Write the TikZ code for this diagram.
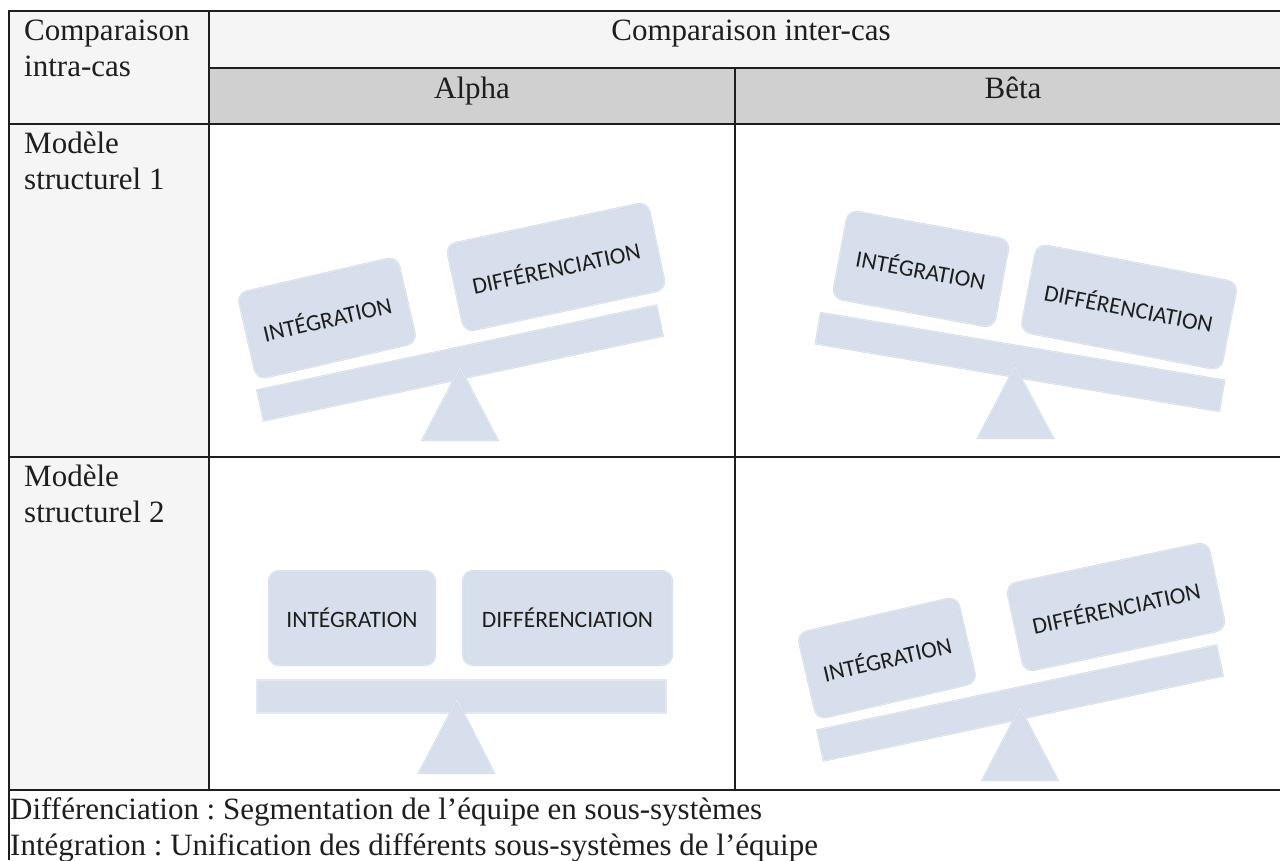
\documentclass[tikz,border=0pt]{standalone}
\usepackage{fontspec}
\setmainfont{Liberation Serif}
\newfontfamily\boxfont{Carlito}
\usepackage{tikz}
\definecolor{rule}{RGB}{30,30,30}
\definecolor{headlight}{RGB}{245,245,245}
\definecolor{headdark}{RGB}{208,208,208}
\definecolor{ssfill}{RGB}{214,223,235}
\definecolor{ssrim}{RGB}{204,215,229}
\definecolor{ssglow}{RGB}{225,232,241}
\frenchspacing

\begin{document}
\begin{tikzpicture}[x=1pt, y=-1pt,
		tabline/.style={draw=rule, line width=2pt},
		cell/.style={inner sep=0pt, text=rule, font=\fontsize{31}{36}\selectfont},
		pivot/.style={fill=ssfill, draw=ssrim, line width=0.4pt, double=ssglow, double distance=1.2pt},
		plank/.style={pivot, shape=rectangle, inner sep=0pt},
		weight/.style={plank, rounded corners=10pt, text=rule, font=\boxfont\fontsize{23.5}{28}\selectfont}]
		\useasboundingbox (0,0) rectangle (1280,860);
		% cell backgrounds
		\fill[headlight] (9,11) rectangle (209,124);
		\fill[headlight] (209,11) rectangle (1293,68);
		\fill[headdark] (209,68) rectangle (1293,124);
		\fill[headlight] (9,124) rectangle (209,790);
		% rules
		\draw[tabline] (8,11) -- (1293,11);
		\draw[tabline] (209,68) -- (1293,68);
		\draw[tabline] (9,124) -- (1293,124);
		\draw[tabline] (9,457) -- (1293,457);
		\draw[tabline] (9,790) -- (1293,790);
		\draw[tabline] (9,10) -- (9,860);
		\draw[tabline] (209,11) -- (209,790);
		\draw[tabline] (735,68) -- (735,790);
		% headers
		\node[cell, anchor=base west] (intraTop) at (24,40) {Comparaison};
		\node[cell, anchor=base west] (intraBot) at (24,76) {intra-cas};
		\node[cell, anchor=base] (inter) at (751,40) {Comparaison inter-cas};
		\node[cell, anchor=base] (alpha) at (472,98) {Alpha};
		\node[cell, anchor=base] (beta) at (1013,98) {Bêta};
		\node[cell, anchor=base west] (modelOneTop) at (24,153) {Modèle};
		\node[cell, anchor=base west] (modelOneBot) at (24,189) {structurel 1};
		\node[cell, anchor=base west] (modelTwoTop) at (24,486) {Modèle};
		\node[cell, anchor=base west] (modelTwoBot) at (24,522) {structurel 2};
		% legend
		\node[cell, anchor=base west] (legendDiff) at (10,819) {Différenciation : Segmentation de l’équipe en sous-systèmes};
		\node[cell, anchor=base west] (legendInt) at (10,855) {Intégration : Unification des différents sous-systèmes de l’équipe};
		% Alpha, modele 1
		\node[plank, minimum width=408pt, minimum height=31pt, rotate=12] (alphaOneBeam) at (460,363) {};
		\filldraw[pivot] (422.5,440) -- (460,368) -- (497.5,440) -- cycle;
		\node[weight, minimum width=164pt, minimum height=88pt, rotate=13] (alphaOneInt) at (327,318) {INTÉGRATION};
		\node[weight, minimum width=206pt, minimum height=89pt, rotate=12] (alphaOneDiff) at (556,267) {DIFFÉRENCIATION};
		% Beta, modele 1
		\node[plank, minimum width=409pt, minimum height=31pt, rotate=-9.5] (betaOneBeam) at (1020,362) {};
		\filldraw[pivot] (978,438) -- (1015,367) -- (1053,438) -- cycle;
		\node[weight, minimum width=164pt, minimum height=89pt, rotate=-10.5] (betaOneInt) at (921,269) {INTÉGRATION};
		\node[weight, minimum width=204pt, minimum height=89pt, rotate=-11] (betaOneDiff) at (1129,307) {DIFFÉRENCIATION};
		% Alpha, modele 2
		\node[plank, minimum width=409pt, minimum height=33pt] (alphaTwoBeam) at (461.5,696.5) {};
		\filldraw[pivot] (419,773) -- (457,700) -- (494,773) -- cycle;
		\node[weight, minimum width=166pt, minimum height=94pt] (alphaTwoInt) at (352,618) {INTÉGRATION};
		\node[weight, minimum width=209pt, minimum height=94pt] (alphaTwoDiff) at (567.5,618) {DIFFÉRENCIATION};
		% Beta, modele 2
		\node[plank, minimum width=408pt, minimum height=31pt, rotate=12] (betaTwoBeam) at (1020,703) {};
		\filldraw[pivot] (982.5,780) -- (1020,708) -- (1057.5,780) -- cycle;
		\node[weight, minimum width=164pt, minimum height=88pt, rotate=13] (betaTwoInt) at (887,658) {INTÉGRATION};
		\node[weight, minimum width=206pt, minimum height=89pt, rotate=12] (betaTwoDiff) at (1116,607) {DIFFÉRENCIATION};
	\end{tikzpicture}
\end{document}
